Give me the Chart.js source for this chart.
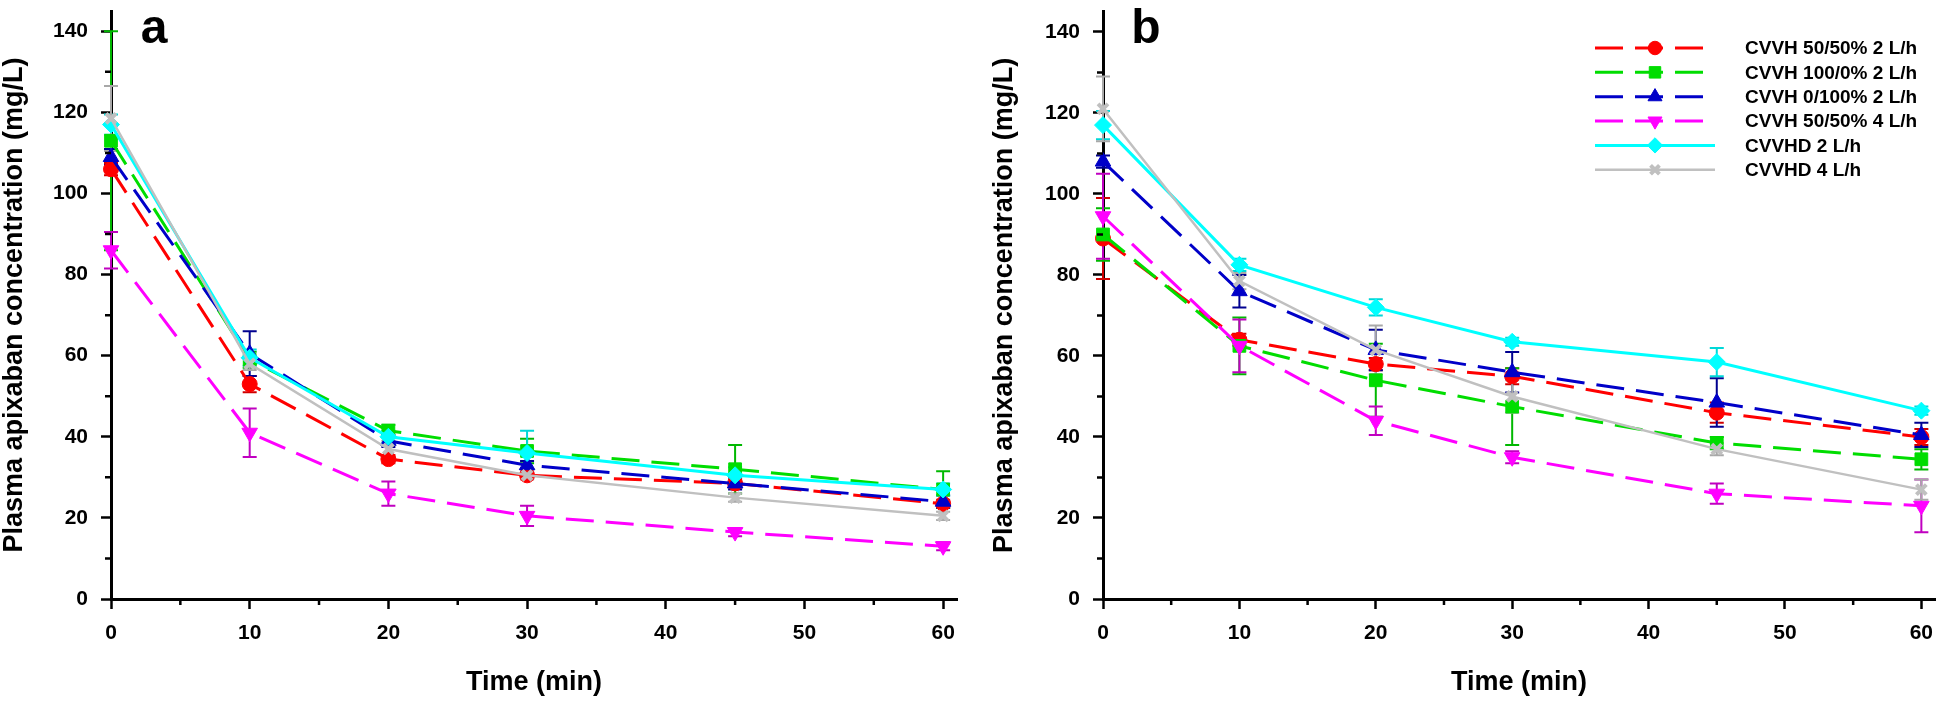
<!DOCTYPE html>
<html>
<head>
<meta charset="utf-8">
<script src="https://cdn.jsdelivr.net/npm/chart.js@4.4.1/dist/chart.umd.min.js"></script>
<style>
  body { margin: 0; background: #fff; }
  #wrap { position: relative; width: 1946px; height: 702px; }
  canvas { position: absolute; top: 0; }
  #chartA { left: 0; }
  #chartB { left: 990px; }
</style>
</head>
<body>
<div id="wrap">
  <canvas id="chartA" width="975" height="702"></canvas>
  <canvas id="chartB" width="956" height="702"></canvas>
</div>
<script>
// sampling times (min)
var times = [0, 10, 20, 30, 45, 60];
var seriesNames = ["CVVH 50/50% 2 L/h", "CVVH 100/0% 2 L/h", "CVVH 0/100% 2 L/h",
  "CVVH 50/50% 4 L/h", "CVVHD 2 L/h", "CVVHD 4 L/h"];
var yTicks = [0, 20, 40, 60, 80, 100, 120, 140];
var xTicks = [0, 10, 20, 30, 40, 50, 60];

// panel a - means
var a5050_2 = [106, 53, 34.5, 30.5, 28.5, 23.5];
var a1000_2 = [113, 59, 41.5, 36.5, 32, 27];
var a0100_2 = [109, 60.5, 39, 33, 28.5, 24];
var a5050_4 = [86, 41, 26, 20.5, 16.5, 13];
var aHd2 = [117, 59.5, 40, 36, 30.5, 27];
var aHd4 = [118.5, 58, 37, 30.5, 25, 20.5];
// panel a - SD
var a5050_2Sd = [1.5, 2, 1, 1, 1, 1];
var a1000_2Sd = [27, 2, 1.5, 3, 6, 4.5];
var a0100_2Sd = [2, 5.5, 1.5, 1, 1.5, 1.5];
var a5050_4Sd = [4.5, 6, 3, 2.5, 1, 1];
var aHd2Sd = [2.5, 2, 1.5, 5.5, 2, 1.5];
var aHd4Sd = [8, 1.5, 2, 1, 1, 1];

// panel b - means
var b5050_2 = [89, 64, 58, 55, 46, 40];
var b1000_2 = [90, 62.5, 54, 47.5, 38.5, 34.5];
var b0100_2 = [108, 76, 61.5, 56, 48.5, 40.5];
var b5050_4 = [94.5, 62.5, 44, 35, 26, 23];
var bHd2 = [117, 82.5, 72, 63.5, 58.5, 46.5];
var bHd4 = [121, 78.5, 61.5, 50, 37, 27];
// panel b - SD
var b5050_2Sd = [10, 1.5, 1.5, 2, 2.5, 2];
var b1000_2Sd = [6.5, 7, 9, 9.5, 1.5, 2.5];
var b0100_2Sd = [1.5, 4, 5, 5, 6, 3];
var b5050_4Sd = [10.5, 6.5, 3.5, 1.5, 2.5, 6.5];
var bHd2Sd = [3.5, 1.5, 2, 1, 3.5, 1];
var bHd4Sd = [8, 2, 6, 4, 1.5, 2.5];

var looks = [
  { color: "#ff0000", bar: "#d00000", dash: [28, 12], point: "circle", radius: 7.5, rot: 0, width: 3 },
  { color: "#00dd00", bar: "#00b800", dash: [28, 12], point: "rect", radius: 9, rot: 0, width: 3 },
  { color: "#0000c8", bar: "#000090", dash: [28, 12], point: "triangle", radius: 9, rot: 0, width: 3 },
  { color: "#ff00ff", bar: "#c000c0", dash: [28, 12], point: "triangle", radius: 9, rot: 180, width: 3 },
  { color: "#00ffff", bar: "#00d8d8", dash: [], point: "rectRot", radius: 8.5, rot: 0, width: 3 },
  { color: "#c0c0c0", bar: "#a8a8a8", dash: [], point: "crossRot", radius: 7, rot: 0, width: 2.5 }
];

var font = "'Liberation Sans', Arial, sans-serif";

function makeSets(values, sds) {
  var sets = [];
  for (var i = 0; i < values.length; i++) {
    var pts = [];
    for (var j = 0; j < times.length; j++) {
      pts.push({ x: times[j], y: values[i][j] });
    }
    var lk = looks[i];
    sets.push({
      label: seriesNames[i],
      data: pts,
      errors: sds[i],
      barColor: lk.bar,
      showLine: true,
      borderColor: lk.color,
      backgroundColor: lk.color,
      borderWidth: lk.width,
      borderDash: lk.dash,
      pointStyle: lk.point,
      pointRadius: lk.radius,
      pointRotation: lk.rot,
      pointBorderColor: lk.color,
      pointBackgroundColor: lk.color,
      pointBorderWidth: lk.point == "crossRot" ? 4 : 1,
      tension: 0,
      clip: false,
      order: values.length - i
    });
  }
  return sets;
}

// error bars drawn under the markers
var errorBars = {
  id: "errorBars",
  beforeDatasetsDraw: function (chart) {
    var ctx = chart.ctx;
    var ys = chart.scales.y;
    ctx.save();
    for (var i = 0; i < chart.data.datasets.length; i++) {
      var ds = chart.data.datasets[i];
      var meta = chart.getDatasetMeta(i);
      ctx.strokeStyle = ds.barColor;
      ctx.lineWidth = 2;
      for (var j = 0; j < ds.data.length; j++) {
        var px = meta.data[j].x;
        var top = ys.getPixelForValue(ds.data[j].y + ds.errors[j]);
        var bot = ys.getPixelForValue(ds.data[j].y - ds.errors[j]);
        ctx.beginPath();
        ctx.moveTo(px, top); ctx.lineTo(px, bot);
        ctx.moveTo(px - 7, top); ctx.lineTo(px + 7, top);
        ctx.moveTo(px - 7, bot); ctx.lineTo(px + 7, bot);
        ctx.stroke();
      }
    }
    ctx.restore();
  }
};

// minor ticks, panel letter and (panel b) legend
var extras = {
  id: "extras",
  afterDraw: function (chart) {
    var ctx = chart.ctx;
    var xs = chart.scales.x, ys = chart.scales.y;
    var opts = chart.options.plugins.extras;
    ctx.save();
    ctx.strokeStyle = "#000";
    ctx.lineWidth = 2.5;
    ctx.beginPath();
    for (var v = 5; v < 60; v += 10) {
      var px = xs.getPixelForValue(v);
      ctx.moveTo(px, xs.top); ctx.lineTo(px, xs.top + 6);
    }
    for (var w = 10; w < 140; w += 20) {
      var py = ys.getPixelForValue(w);
      ctx.moveTo(ys.right, py); ctx.lineTo(ys.right - 6, py);
    }
    ctx.stroke();

    ctx.fillStyle = "#000";
    ctx.font = "bold 48px " + font;
    ctx.textAlign = "center";
    ctx.textBaseline = "alphabetic";
    ctx.fillText(opts.letter, chart.chartArea.left + 43, 43);

    if (opts.legend) {
      var lx = 605, len = 120, tx = 755;
      for (var i = 0; i < chart.data.datasets.length; i++) {
        var ds = chart.data.datasets[i];
        var ly = 48 + i * 24.35;
        ctx.save();
        ctx.strokeStyle = ds.borderColor;
        ctx.lineWidth = ds.borderWidth;
        ctx.setLineDash(ds.borderDash);
        ctx.beginPath();
        ctx.moveTo(lx, ly); ctx.lineTo(lx + len, ly);
        ctx.stroke();
        ctx.setLineDash([]);
        ctx.fillStyle = ds.pointBackgroundColor;
        ctx.strokeStyle = ds.pointBorderColor;
        ctx.lineWidth = ds.pointBorderWidth;
        Chart.helpers.drawPoint(ctx, {
          pointStyle: ds.pointStyle,
          radius: ds.pointRadius * 0.9,
          rotation: ds.pointRotation,
          borderWidth: ds.pointBorderWidth
        }, lx + len / 2, ly);
        ctx.restore();
        ctx.fillStyle = "#000";
        ctx.font = "bold 19px " + font;
        ctx.textAlign = "left";
        ctx.textBaseline = "middle";
        ctx.fillText(ds.label, tx, ly + 1);
      }
    }
    ctx.restore();
  }
};

function makeOptions(yWidth, padTop, padRight, letter, legend) {
  return {
    responsive: false,
    animation: false,
    layout: { padding: { left: 0, top: padTop, right: padRight, bottom: 0 } },
    plugins: {
      legend: { display: false },
      tooltip: { enabled: false },
      extras: { letter: letter, legend: legend }
    },
    scales: {
      x: {
        type: "linear",
        min: 0,
        max: 61,
        afterFit: function (s) { s.height = 103; s.paddingLeft = 0; s.paddingRight = 0; },
        afterBuildTicks: function (s) { s.ticks = xTicks.map(function (v) { return { value: v }; }); },
        ticks: { font: { family: font, size: 21, weight: "bold" }, color: "#000", padding: 12, maxRotation: 0 },
        grid: { display: true, drawOnChartArea: false, drawTicks: true, tickLength: 10, tickWidth: 2.5, tickColor: "#000" },
        border: { display: true, color: "#000", width: 3 },
        title: {
          display: true, text: "Time (min)", color: "#000",
          font: { family: font, size: 27, weight: "bold", lineHeight: 1.1 },
          padding: { top: 0, bottom: 5 }
        }
      },
      y: {
        type: "linear",
        min: 0,
        max: 145,
        afterFit: function (s) { s.width = yWidth; s.paddingTop = 0; s.paddingBottom = 0; },
        afterBuildTicks: function (s) { s.ticks = yTicks.map(function (v) { return { value: v }; }); },
        ticks: { font: { family: font, size: 21, weight: "bold" }, color: "#000", padding: 13 },
        grid: { display: true, drawOnChartArea: false, drawTicks: true, tickLength: 10, tickWidth: 2.5, tickColor: "#000" },
        border: { display: true, color: "#000", width: 3 },
        title: {
          display: true, text: "Plasma apixaban concentration (mg/L)", color: "#000",
          font: { family: font, size: 27, weight: "bold", lineHeight: 1.1 },
          padding: { top: 0, bottom: 0 }
        }
      }
    }
  };
}

new Chart(document.getElementById("chartA"), {
  type: "scatter",
  data: {
    datasets: makeSets(
      [a5050_2, a1000_2, a0100_2, a5050_4, aHd2, aHd4],
      [a5050_2Sd, a1000_2Sd, a0100_2Sd, a5050_4Sd, aHd2Sd, aHd4Sd])
  },
  options: makeOptions(111, 6.5, 18, "a", false),
  plugins: [errorBars, extras]
});

new Chart(document.getElementById("chartB"), {
  type: "scatter",
  data: {
    datasets: makeSets(
      [b5050_2, b1000_2, b0100_2, b5050_4, bHd2, bHd4],
      [b5050_2Sd, b1000_2Sd, b0100_2Sd, b5050_4Sd, bHd2Sd, bHd4Sd])
  },
  options: makeOptions(113, 11.7, 4, "b", true),
  plugins: [errorBars, extras]
});
</script>
</body>
</html>
